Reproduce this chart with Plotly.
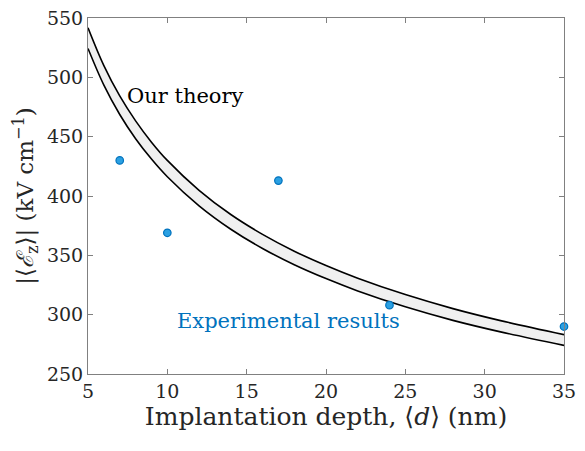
import plotly.graph_objects as go

# Theory band
theory_d = [5, 6, 7, 8, 9, 10, 12, 14, 16, 18, 20, 22, 25, 28, 31, 35]
theory_upper = [541.8, 509.9, 484.3, 463.3, 445.4, 430.0, 404.8, 384.4, 367.7,
                353.5, 341.4, 330.7, 316.9, 305.1, 295.0, 283.2]
theory_lower = [524.3, 493.4, 468.7, 448.3, 431.1, 416.2, 391.7, 372.0, 355.8,
                342.1, 330.4, 320.0, 306.6, 295.2, 285.5, 274.1]

# Experimental points
exp_d = [7, 10, 17, 24, 35]
exp_E = [430, 369, 413, 308, 290]

x_ticks = [5, 10, 15, 20, 25, 30, 35]
y_ticks = [250, 300, 350, 400, 450, 500, 550]

FONT = "DejaVu Serif"
TXT = "#262626"
AX = "#808080"

fig = go.Figure()
fig.add_trace(go.Scatter(x=theory_d, y=theory_lower, mode="lines",
                         line=dict(color="black", width=1.6, shape="spline"),
                         showlegend=False, hoverinfo="skip"))
fig.add_trace(go.Scatter(x=theory_d, y=theory_upper, mode="lines",
                         line=dict(color="black", width=1.6, shape="spline"),
                         fill="tonexty", fillcolor="#f0f0f0",
                         showlegend=False, hoverinfo="skip"))
fig.add_trace(go.Scatter(x=exp_d, y=exp_E, mode="markers",
                         marker=dict(size=7.5, color="#2BA0E2",
                                     line=dict(color="#0072BD", width=1.2)),
                         showlegend=False, cliponaxis=False))

fig.add_annotation(x=7.35, y=484, text="Our theory", showarrow=False,
                   xanchor="left", yanchor="middle",
                   font=dict(family=FONT, size=21, color="black"))
fig.add_annotation(x=10.5, y=294.5, text="Experimental results", showarrow=False,
                   xanchor="left", yanchor="middle",
                   font=dict(family=FONT, size=21, color="#0072BD"))

axis_common = dict(showline=True, linecolor=AX, linewidth=1, mirror="ticks",
                   ticks="inside", ticklen=5, tickcolor=AX, showgrid=False,
                   zeroline=False, automargin=False, ticklabeloverflow="allow",
                   tickfont=dict(family=FONT, size=19, color=TXT))

fig.update_xaxes(range=[5, 35], tickvals=x_ticks,
                 title=dict(text="Implantation depth, ⟨<i>d</i>⟩ (nm)",
                            font=dict(family=FONT, size=25, color=TXT), standoff=2),
                 **axis_common)
fig.update_yaxes(range=[250, 550], tickvals=y_ticks,
                 title=dict(text="|⟨<i>ℰ</i><sub>z</sub>⟩| (kV cm<sup>−1</sup>)",
                            font=dict(family=FONT, size=23, color=TXT), standoff=6),
                 **axis_common)

# page body has an 8px margin; size the figure so the page does not overflow the window
fig.update_layout(width=569, height=435, plot_bgcolor="white", paper_bgcolor="white",
                  margin=dict(l=80, r=13, t=10, b=69))

fig.write_html("out.html")
